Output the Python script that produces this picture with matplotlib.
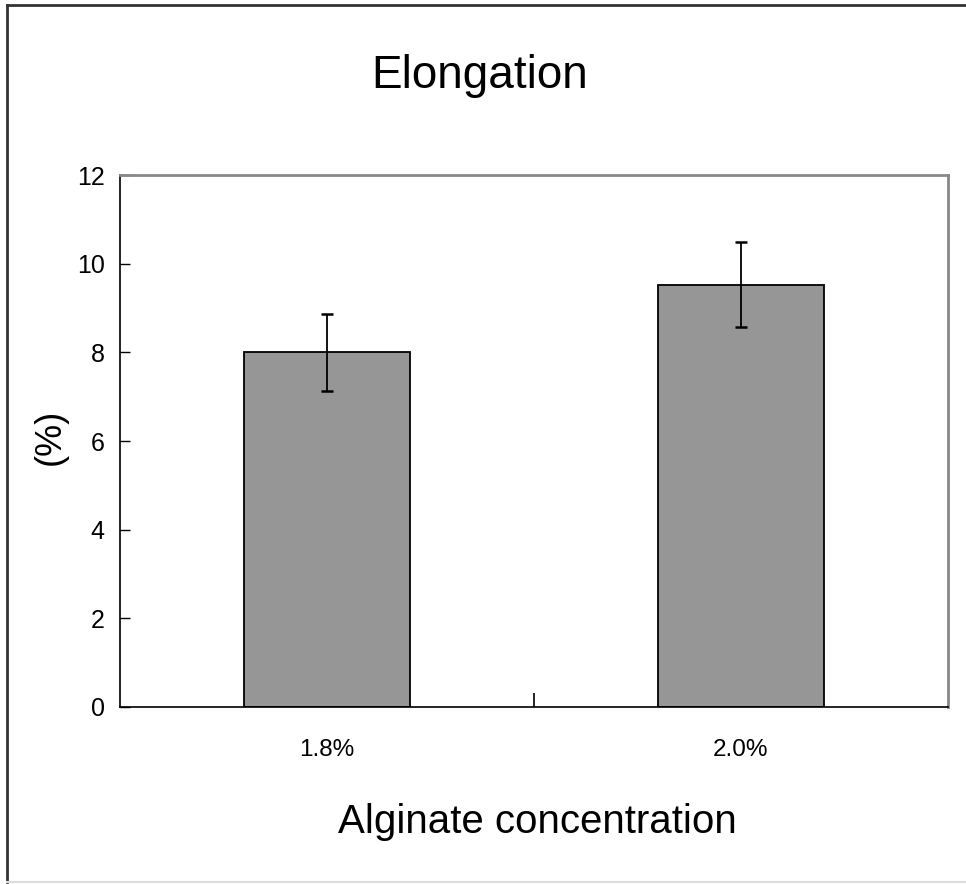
import matplotlib
matplotlib.use("Agg")
import matplotlib.pyplot as plt
from matplotlib.lines import Line2D
import numpy as np

categories = ["1.8%", "2.0%"]
elongation = [8.0, 9.53]
errors = [0.87, 0.95]
y_ticks = [0, 2, 4, 6, 8, 10, 12]

font = "Liberation Sans"

fig = plt.figure(figsize=(9.66, 8.84), dpi=100)
ax = fig.add_axes([120 / 966, 1 - 707 / 884, 828 / 966, 532 / 884])

x = np.arange(len(categories))
ax.bar(x, elongation, width=0.4, color="#969696", edgecolor="black", linewidth=1.3, zorder=2)
ax.errorbar(x, elongation, yerr=errors, fmt="none", ecolor="black",
            elinewidth=1.3, capsize=4.5, capthick=1.8, zorder=3)

ax.set_xlim(-0.5, 1.5)
ax.set_ylim(0, 12)
ax.set_yticks(y_ticks)
ax.set_yticklabels([str(v) for v in y_ticks], fontsize=18, family=font)
ax.tick_params(axis="y", direction="in", length=7, width=1, pad=11)

# only the boundary between the two categories carries a tick
ax.set_xticks([0.5])
ax.set_xticklabels([""])
ax.tick_params(axis="x", direction="in", length=10, width=1.2)
for xi, lab in zip(x, categories):
    ax.text(xi, -0.98, lab, ha="center", va="center", fontsize=17.5, family=font,
            transform=ax.transData)

for side in ("left", "bottom"):
    ax.spines[side].set_color("black")
    ax.spines[side].set_linewidth(1.2)
for side in ("top", "right"):
    ax.spines[side].set_color("#888888")
    ax.spines[side].set_linewidth(2)

fig.text(480 / 966, 1 - 76 / 884, "Elongation", ha="center", va="center",
         fontsize=33, family=font)
fig.text(537 / 966, 1 - 822 / 884, "Alginate concentration", ha="center", va="center",
         fontsize=29, family=font)
fig.text(50 / 966, 1 - 437 / 884, "(%)", ha="center", va="center", rotation=90,
         fontsize=26, family=font)

# figure frame
fig.add_artist(Line2D([6.5 / 966, 6.5 / 966], [1 - 4.5 / 884, 1 - 882 / 884],
                      transform=fig.transFigure, color="#333333", linewidth=2))
fig.add_artist(Line2D([6.5 / 966, 1], [1 - 4.5 / 884, 1 - 4.5 / 884],
                      transform=fig.transFigure, color="#333333", linewidth=2))
fig.add_artist(Line2D([6.5 / 966, 1], [1 - 882 / 884, 1 - 882 / 884],
                      transform=fig.transFigure, color="#dddddd", linewidth=1.5))

fig.savefig("out.png", dpi=100)
